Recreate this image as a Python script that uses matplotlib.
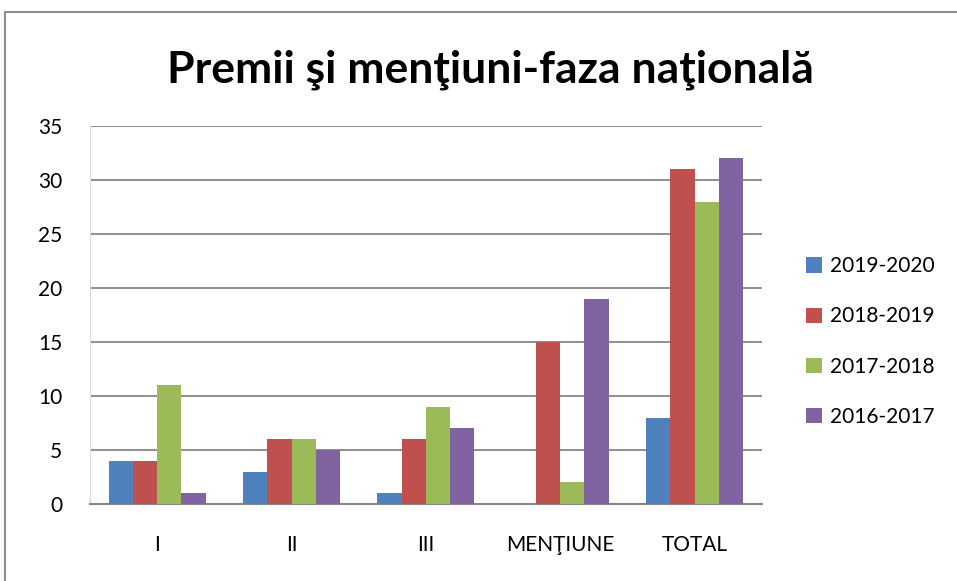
import numpy as np
import matplotlib.pyplot as plt
from matplotlib.patches import Rectangle

plt.rcParams['font.family'] = ['Lato', 'DejaVu Sans']

# Date
categorii = ['I', 'II', 'III', 'MENŢIUNE', 'TOTAL']
serii = ['2019-2020', '2018-2019', '2017-2018', '2016-2017']
v_2019_2020 = [4, 3, 1, 0, 8]
v_2018_2019 = [4, 6, 6, 15, 31]
v_2017_2018 = [11, 6, 9, 2, 28]
v_2016_2017 = [1, 5, 7, 19, 32]
valori = [v_2019_2020, v_2018_2019, v_2017_2018, v_2016_2017]
culori = ['#4F81BD', '#C0504D', '#9BBB59', '#8064A2']

fig = plt.figure(figsize=(9.57, 5.81), dpi=100)
ax = fig.add_axes([0.094, 0.1325, 0.702, 0.6505])

# Chenarul graficului
fig.patches.append(Rectangle((5 / 957, -0.1), 2, 1 - 12 / 581 + 0.1,
                             transform=fig.transFigure, fill=False,
                             edgecolor='#8c8c8c', linewidth=1.5))

x = np.arange(len(categorii))
latime = 0.18
for i, (serie, v) in enumerate(zip(serii, valori)):
    ax.bar(x + (i - 1.5) * latime, v, latime, color=culori[i], label=serie, zorder=3)

ax.set_xlim(-0.5, len(categorii) - 0.5)
ax.set_ylim(0, 35)
ax.set_yticks(range(0, 36, 5))
ax.set_xticks(x)
ax.set_xticklabels(categorii)
ax.yaxis.grid(True, color='#868686', linewidth=1.3, zorder=0)
ax.tick_params(axis='both', length=0, labelsize=15)
ax.tick_params(axis='x', pad=22)
ax.tick_params(axis='y', pad=20)
for s in ['top', 'right']:
    ax.spines[s].set_visible(False)
ax.spines['left'].set_color('#d9d9d9')
ax.spines['bottom'].set_color('#868686')
ax.spines['bottom'].set_linewidth(1.5)

fig.suptitle('Premii şi menţiuni-faza naţională', fontsize=32, fontweight='bold',
             x=0.512, y=0.915)

ax.legend(loc='center left', bbox_to_anchor=(1.035, 0.43), frameon=False,
          fontsize=15, handlelength=0.75, handleheight=0.75, labelspacing=1.45,
          handletextpad=0.4, borderaxespad=0.6)

plt.savefig('out.png', dpi=100)
